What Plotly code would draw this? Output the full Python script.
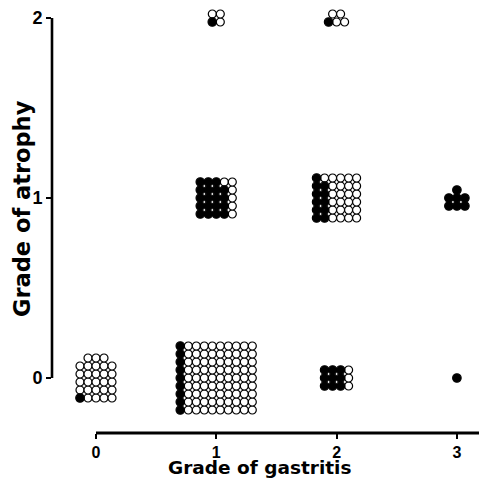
import plotly.graph_objects as go

# ---- data ----
gastritis_grade = [0, 1, 2, 3, 1, 2, 3, 1, 2]
atrophy_grade = [0, 0, 0, 0, 1, 1, 1, 2, 2]
n_filled = [1, 9, 9, 1, 19, 11, 7, 1, 1]
n_open = [27, 81, 3, 0, 6, 25, 0, 3, 4]
x_tick_labels = ["0", "1", "2", "3"]
y_tick_labels = ["0", "1", "2"]

# ---- layout parameters (not data) ----
grid_cols = [5, 10, 4, 1, 5, 6, 3, 2, 3]
W, H = 487, 480
OFF = 8  # default page body margin
X0_PX, X_SCALE = 96.0, 120.3   # window px of gastritis 0, px per grade
Y0_PX, Y_SCALE = 378.0, 180.0  # window px of atrophy 0, px per grade
# plot area in window pixels
PL, PR, PT, PB = 52, W + OFF, 8, 433
M_L, M_R, M_T, M_B = PL - OFF, W - (PR - OFF), PT - OFF, H - (PB - OFF)
X_RANGE = [(PL - X0_PX) / X_SCALE, (PR - X0_PX) / X_SCALE]
Y_RANGE = [(Y0_PX - PB) / Y_SCALE, (Y0_PX - PT) / Y_SCALE]
DOT_SPACING_PX = 8.0

dx = DOT_SPACING_PX / X_SCALE
dy = DOT_SPACING_PX / Y_SCALE

fx, fy, ox, oy = [], [], [], []
for gx, gy, nf, no, nc in zip(gastritis_grade, atrophy_grade, n_filled, n_open, grid_cols):
    total = nf + no
    nrows = -(-total // nc)
    cells = []
    for i in range(total):
        r = i // nc
        c = i % nc
        in_row = nc if r < nrows - 1 else total - nc * (nrows - 1)
        c_off = c + (nc - in_row) / 2.0
        cells.append((c_off, r))
    cells.sort(key=lambda t: (t[0], t[1]))
    for k, (c, r) in enumerate(cells):
        x = gx + (c - (nc - 1) / 2.0) * dx
        y = gy + (r - (nrows - 1) / 2.0) * dy
        if k < nf:
            fx.append(x); fy.append(y)
        else:
            ox.append(x); oy.append(y)

fig = go.Figure()
fig.add_trace(go.Scatter(
    x=ox, y=oy, mode="markers", hoverinfo="skip",
    marker=dict(size=8, color="white", line=dict(color="black", width=1.2)),
    showlegend=False, cliponaxis=False))
fig.add_trace(go.Scatter(
    x=fx, y=fy, mode="markers", hoverinfo="skip",
    marker=dict(size=8.5, color="black", line=dict(color="black", width=1.2)),
    showlegend=False, cliponaxis=False))

x_tick_font = dict(family="Liberation Sans", size=16, color="black", weight="bold")
y_tick_font = dict(family="Liberation Sans", size=18, color="black", weight="bold")
x_title_font = dict(family="DejaVu Sans", size=18.5, color="black", weight="bold")
y_title_font = dict(family="DejaVu Sans", size=22.5, color="black", weight="bold")

fig.update_xaxes(
    range=X_RANGE, showgrid=False, zeroline=False, showline=False,
    tickvals=[0, 1, 2, 3], ticktext=x_tick_labels,
    ticks="outside", ticklen=5, tickwidth=2.2, tickcolor="black",
    tickfont=x_tick_font, fixedrange=True)
fig.update_yaxes(
    range=Y_RANGE, showgrid=False, zeroline=False, showline=False,
    tickvals=[0, 1, 2], ticktext=y_tick_labels,
    ticks="outside", ticklen=5, tickwidth=2.2, tickcolor="black",
    tickfont=y_tick_font, fixedrange=True)

# spine-bounded axis lines
fig.add_shape(type="line", xref="paper", yref="y", x0=0, x1=0, y0=0, y1=2,
              line=dict(color="black", width=2.6))
fig.add_shape(type="line", xref="x", yref="paper", x0=0, x1=X_RANGE[1], y0=0, y1=0,
              line=dict(color="black", width=2.8))


def paper_x(sx):
    return (sx - PL) / (PR - PL)


def paper_y(sy):
    return (PB - sy) / (PB - PT)


fig.add_annotation(text="Grade of gastritis", xref="paper", yref="paper",
                   x=paper_x(259), y=paper_y(467.5),
                   showarrow=False, xanchor="center", yanchor="middle", font=x_title_font)
fig.add_annotation(text="Grade of atrophy", xref="paper", yref="paper",
                   x=paper_x(22), y=paper_y(209),
                   textangle=-90, showarrow=False, xanchor="center", yanchor="middle",
                   font=y_title_font)

fig.update_layout(
    width=W, height=H,
    margin=dict(l=M_L, r=M_R, t=M_T, b=M_B, autoexpand=False),
    paper_bgcolor="white", plot_bgcolor="white",
)
fig.write_html("out.html")
